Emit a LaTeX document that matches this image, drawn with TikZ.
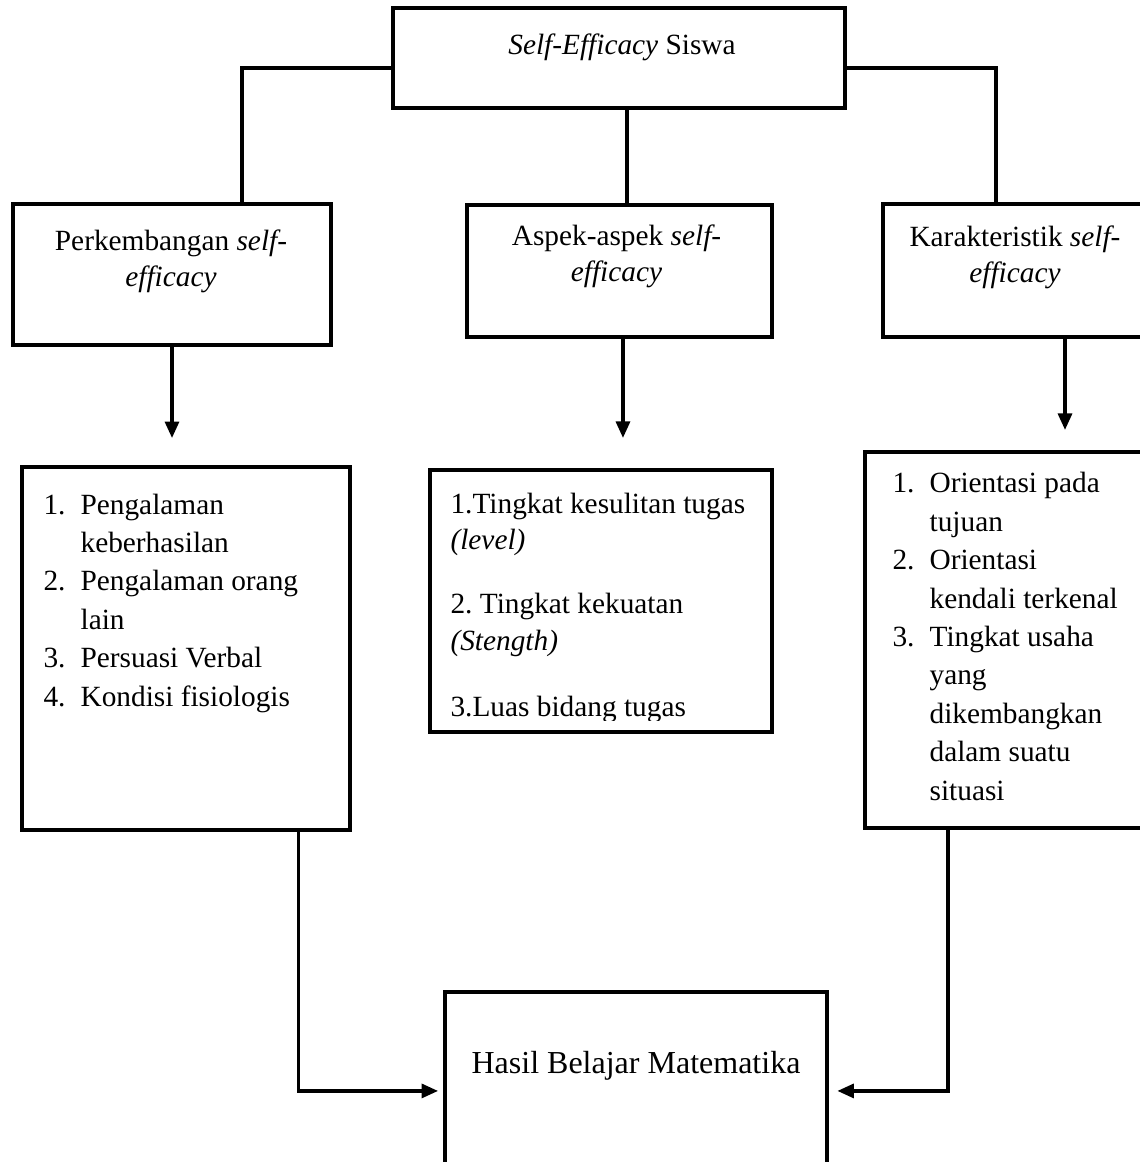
\documentclass[tikz,border=0pt]{standalone}
\usepackage{fontspec}
\setmainfont{Liberation Serif}
\usetikzlibrary{arrows.meta,positioning}
\frenchspacing
\newcommand{\itemno}[1]{\makebox[13.9pt][l]{#1}}
\newcommand{\itemgap}{\hspace*{13.9pt}}

\begin{document}
\begin{tikzpicture}[
    x=0.375pt, y=-0.375pt,
    box/.style={rectangle, draw, line width=1.5pt, inner sep=0pt},
    txt/.style={inner sep=0pt, font=\fontsize{11pt}{14.4pt}\selectfont},
    head/.style={txt, align=center, font=\fontsize{11pt}{13.6pt}\selectfont},
    link/.style={line width=1.3pt},
    arrow/.style={-{Triangle[length=6.2pt, width=5.2pt]}, line width=1.3pt}
]
\clip (0,0) rectangle (1140,1162);

\node[box, minimum width=169.5pt, minimum height=37.5pt] (siswa) at (619,58) {};
\node[txt, anchor=base] (siswatext) at (622,55) {\textit{Self-Efficacy} Siswa};

\node[box, minimum width=119.25pt, minimum height=52.9pt] (perk) at (172,274.5) {};
\node[head, anchor=base] (perktext) at (171,287) {Perkembangan \textit{self-}\\\textit{efficacy}};
\node[box, minimum width=114.4pt, minimum height=49.5pt] (aspek) at (619.5,271) {};
\node[head, anchor=base] (aspektext) at (616.5,282) {Aspek-aspek \textit{self-}\\\textit{efficacy}};
\node[box, minimum width=99pt, minimum height=49.9pt] (kar) at (1015,270.5) {};
\node[head, anchor=base] (kartext) at (1015,283) {Karakteristik \textit{self-}\\\textit{efficacy}};

\node[box, minimum width=123pt, minimum height=136.1pt] (perklist) at (186,648.5) {};
\node[txt, anchor=base west, align=left] (perkitems) at (43,706) {\itemno{1.}Pengalaman\\\itemgap keberhasilan\\\itemno{2.}Pengalaman orang\\\itemgap lain\\\itemno{3.}Persuasi Verbal\\\itemno{4.}Kondisi fisiologis};
\node[box, minimum width=128.25pt, minimum height=98.25pt] (aspeklist) at (601,601) {};
\begin{scope}
\clip (aspeklist.north west) rectangle ([yshift=5pt]aspeklist.south east);
\node[txt, font=\fontsize{11pt}{13.7pt}\selectfont, anchor=base west, align=left] (aspekitems) at (450,716) {1.Tingkat kesulitan tugas\\\textit{(level)}\\[10.2pt]2. Tingkat kekuatan\\\textit{(Stength)}\\[11pt]3.Luas bidang tugas};
\end{scope}
\node[box, minimum width=106.9pt, minimum height=141pt] (karlist) at (1007.5,640) {};
\node[txt, anchor=base west, align=left] (karitems) at (892,800) {\itemno{1.}Orientasi pada\\\itemgap tujuan\\\itemno{2.}Orientasi\\\itemgap kendali terkenal\\\itemno{3.}Tingkat usaha\\\itemgap yang\\\itemgap dikembangkan\\\itemgap dalam suatu\\\itemgap situasi};

\node[box, minimum width=143.1pt, minimum height=78pt] (hasil) at (636,1096) {};
\node[txt, font=\fontsize{12pt}{14.4pt}\selectfont, anchor=base] (hasiltext) at (636,1073) {Hasil Belajar Matematika};

\draw[link] ([yshift=-3.75pt]siswa.west) -| ([xshift=26.25pt]perk.north);
\draw[link] ([yshift=-3.75pt]siswa.east) -| ([xshift=-7.1pt]kar.north);
\draw[link] ([xshift=3pt]siswa.south) -- ([xshift=3pt]siswa.south |- aspek.north);
\draw[arrow, shorten >=10.1pt] (perk.south) -- (perk.south |- perklist.north);
\draw[arrow, shorten >=11.25pt] ([xshift=1.3pt]aspek.south) -- ([xshift=1.3pt]aspek.south |- aspeklist.north);
\draw[arrow, shorten >=7.5pt] ([xshift=18.75pt]kar.south) -- ([xshift=18.75pt]kar.south |- karlist.north);
\draw[arrow, shorten >=1.9pt] ([xshift=42.2pt]perklist.south) |- ([yshift=1.9pt]hasil.west);
\draw[arrow, shorten >=3.2pt] ([xshift=-22.3pt]karlist.south) |- ([yshift=1.9pt]hasil.east);
\end{tikzpicture}
\end{document}
